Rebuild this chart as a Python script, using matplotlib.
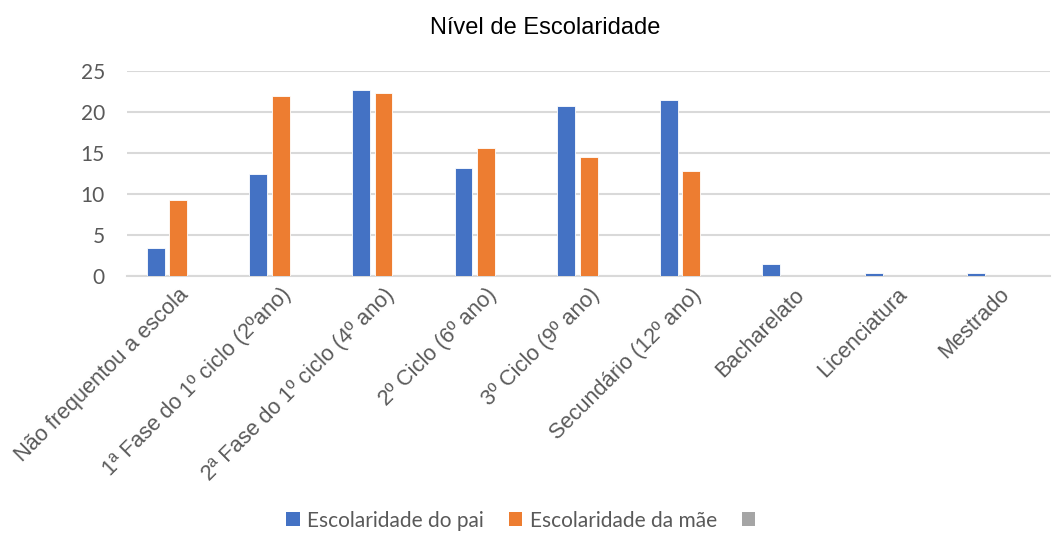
import matplotlib
matplotlib.use("Agg")
import matplotlib.pyplot as plt
import numpy as np
from matplotlib.patches import Patch

categories = ["Não frequentou a escola", "1ª Fase do 1º ciclo (2ºano)",
              "2ª Fase do 1º ciclo (4º ano)", "2º Ciclo (6º ano)",
              "3º Ciclo (9º ano)", "Secundário (12º ano)", "Bacharelato",
              "Licenciatura", "Mestrado"]
pai = [3.4, 12.4, 22.7, 13.2, 20.7, 21.5, 1.5, 0.33, 0.33]
mae = [9.3, 21.9, 22.3, 15.55, 14.45, 12.8, 0, 0, 0]
terceira = [0, 0, 0, 0, 0, 0, 0, 0, 0]
series_labels = ["Escolaridade do pai", "Escolaridade da mãe", " "]
yticks = [0, 5, 10, 15, 20, 25]

colors = ["#4472C4", "#ED7D31", "#A5A5A5"]

fig = plt.figure(figsize=(10.54, 5.40), dpi=100)
ax = fig.add_axes([0.1205, 0.489, 0.876, 0.3795])

x = np.arange(len(categories))
w = 0.175
offs = [-0.22, 0.0, 0.22]
for vals, off, c in zip([pai, mae, terceira], offs, colors):
    ax.bar(x + off, vals, width=w, color=c, edgecolor="white", linewidth=0.6, zorder=3)

ax.set_xlim(-0.5, len(categories) - 0.5)
ax.set_ylim(0, 25)
ax.set_yticks(yticks)
ax.yaxis.grid(True, color="#D9D9D9", linewidth=1.5, zorder=0)
for s in ["top", "right", "left"]:
    ax.spines[s].set_visible(False)
ax.spines["bottom"].set_color("#D9D9D9")
ax.spines["bottom"].set_linewidth(1.5)
ax.tick_params(axis="both", length=0)
ax.tick_params(axis="y", pad=16)
ax.set_yticklabels([str(t) for t in yticks], fontsize=15, color="#595959", family="Lato")
ax.set_xticks(x)
ax.set_xticklabels(categories, rotation=45, ha="right", rotation_mode="anchor",
                   fontsize=15.7, color="#595959", family="Liberation Sans")
ax.tick_params(axis="x", pad=6)

fig.text(0.517, 0.948, "Nível de Escolaridade", ha="center", va="center",
         fontsize=17, color="#000000", family="Liberation Sans")

handles = [Patch(facecolor=c) for c in colors]
fig.legend(handles, series_labels, loc="center", bbox_to_anchor=(0.5, 0.036),
           ncol=3, frameon=False, prop={"family": "Lato", "size": 15},
           labelcolor="#595959", handlelength=0.65, handleheight=0.65,
           handletextpad=0.35, columnspacing=1.2)

fig.savefig("out.png", dpi=100)
